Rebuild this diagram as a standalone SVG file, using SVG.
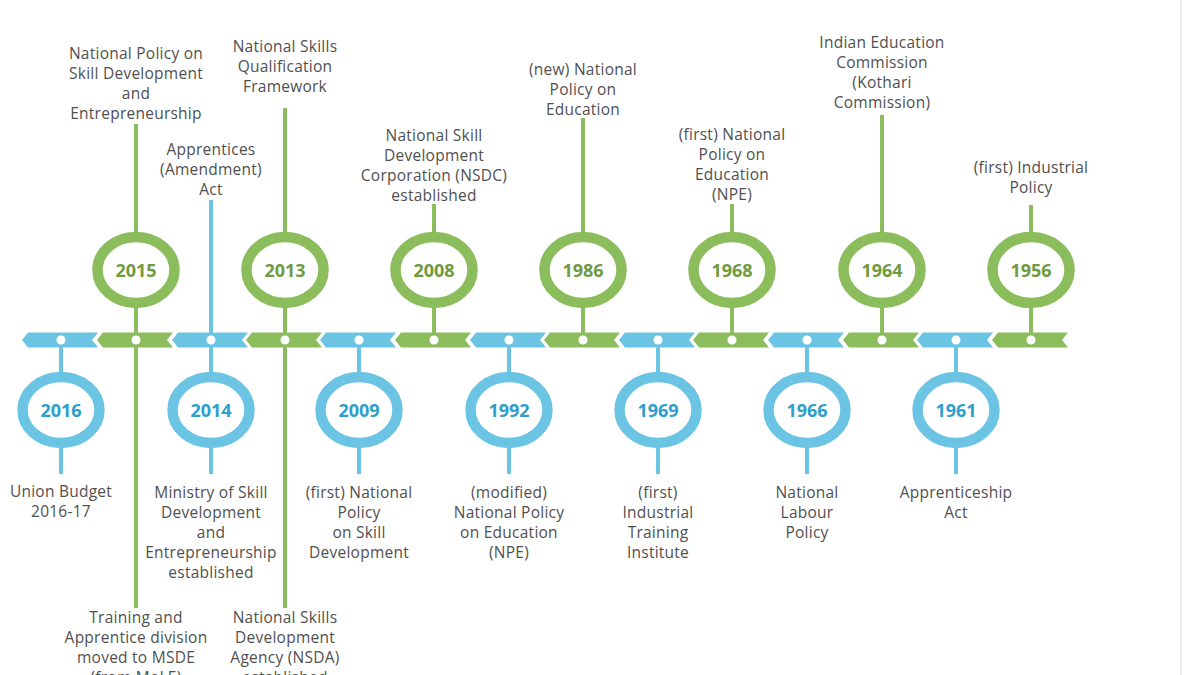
<svg xmlns="http://www.w3.org/2000/svg" width="1184" height="675" viewBox="0 0 1184 675">
<style>
.g{fill:#8cbd5c}
.b{fill:#6cc4e4}
.gs{stroke:#8cbd5c;stroke-width:4;fill:none}
.bs{stroke:#6cc4e4;stroke-width:4;fill:none}
.gr{fill:#fff;stroke:#8cbd5c;stroke-width:10.5}
.br{fill:#fff;stroke:#6cc4e4;stroke-width:10.5}
.yg{font-family:"Open Sans","Liberation Sans",sans-serif;font-weight:700;font-size:18px;fill:#6f9a40;text-anchor:middle}
.yb{font-family:"Open Sans","Liberation Sans",sans-serif;font-weight:700;font-size:18px;fill:#2e9ecb;text-anchor:middle}
.t{font-family:"Open Sans","Liberation Sans",sans-serif;font-size:15.5px;letter-spacing:0.25px;fill:#505050;text-anchor:middle}
.dot{fill:#fff}
</style>
<defs>
<path id="seg" d="M-39,0 L-33,-7.5 L37,-7.5 L31,0 L37,7.5 L-33,7.5 Z"/>
</defs>
<rect width="1184" height="675" fill="#fff"/>
<line x1="1181" y1="0" x2="1181" y2="675" stroke="#e4e4e4" stroke-width="1.5"/>

<g id="connectors">
  <line class="gs" x1="136" y1="124" x2="136" y2="232"/>
  <line class="gs" x1="136" y1="308" x2="136" y2="608"/>
  <line class="bs" x1="211" y1="200" x2="211" y2="340"/>
  <line class="gs" x1="285" y1="108" x2="285" y2="232"/>
  <line class="gs" x1="285" y1="308" x2="285" y2="608"/>
  <line class="gs" x1="434" y1="204" x2="434" y2="232"/>
  <line class="gs" x1="434" y1="308" x2="434" y2="340"/>
  <line class="gs" x1="583" y1="118" x2="583" y2="232"/>
  <line class="gs" x1="583" y1="308" x2="583" y2="340"/>
  <line class="gs" x1="732" y1="204" x2="732" y2="232"/>
  <line class="gs" x1="732" y1="308" x2="732" y2="340"/>
  <line class="gs" x1="882" y1="115" x2="882" y2="232"/>
  <line class="gs" x1="882" y1="308" x2="882" y2="340"/>
  <line class="gs" x1="1031" y1="205" x2="1031" y2="232"/>
  <line class="gs" x1="1031" y1="308" x2="1031" y2="340"/>
  <line class="bs" x1="61" y1="340" x2="61" y2="373"/>
  <line class="bs" x1="61" y1="448" x2="61" y2="474"/>
  <line class="bs" x1="211" y1="340" x2="211" y2="373"/>
  <line class="bs" x1="211" y1="448" x2="211" y2="474"/>
  <line class="bs" x1="359" y1="340" x2="359" y2="373"/>
  <line class="bs" x1="359" y1="448" x2="359" y2="474"/>
  <line class="bs" x1="509" y1="340" x2="509" y2="373"/>
  <line class="bs" x1="509" y1="448" x2="509" y2="474"/>
  <line class="bs" x1="658" y1="340" x2="658" y2="373"/>
  <line class="bs" x1="658" y1="448" x2="658" y2="474"/>
  <line class="bs" x1="807" y1="340" x2="807" y2="373"/>
  <line class="bs" x1="807" y1="448" x2="807" y2="474"/>
  <line class="bs" x1="956" y1="340" x2="956" y2="373"/>
  <line class="bs" x1="956" y1="448" x2="956" y2="474"/>
</g>

<g id="timeline">
  <use href="#seg" class="b" x="61" y="340"/>
  <use href="#seg" class="g" x="136" y="340"/>
  <use href="#seg" class="b" x="211" y="340"/>
  <use href="#seg" class="g" x="285" y="340"/>
  <use href="#seg" class="b" x="359" y="340"/>
  <use href="#seg" class="g" x="434" y="340"/>
  <use href="#seg" class="b" x="509" y="340"/>
  <use href="#seg" class="g" x="583" y="340"/>
  <use href="#seg" class="b" x="658" y="340"/>
  <use href="#seg" class="g" x="732" y="340"/>
  <use href="#seg" class="b" x="807" y="340"/>
  <use href="#seg" class="g" x="882" y="340"/>
  <use href="#seg" class="b" x="956" y="340"/>
  <use href="#seg" class="g" x="1031" y="340"/>
  <circle class="dot" cx="61" cy="340" r="4.5"/>
  <circle class="dot" cx="136" cy="340" r="4.5"/>
  <circle class="dot" cx="211" cy="340" r="4.5"/>
  <circle class="dot" cx="285" cy="340" r="4.5"/>
  <circle class="dot" cx="359" cy="340" r="4.5"/>
  <circle class="dot" cx="434" cy="340" r="4.5"/>
  <circle class="dot" cx="509" cy="340" r="4.5"/>
  <circle class="dot" cx="583" cy="340" r="4.5"/>
  <circle class="dot" cx="658" cy="340" r="4.5"/>
  <circle class="dot" cx="732" cy="340" r="4.5"/>
  <circle class="dot" cx="807" cy="340" r="4.5"/>
  <circle class="dot" cx="882" cy="340" r="4.5"/>
  <circle class="dot" cx="956" cy="340" r="4.5"/>
  <circle class="dot" cx="1031" cy="340" r="4.5"/>
</g>

<g id="n2016">
  <ellipse class="br" cx="61" cy="410" rx="38.5" ry="33"/>
  <text class="yb" x="61" y="417">2016</text>
  <text class="t" x="61" y="497">Union Budget</text>
  <text class="t" x="61" y="517">2016-17</text>
</g>
<g id="n2015">
  <ellipse class="gr" cx="136" cy="270" rx="38.5" ry="33"/>
  <text class="yg" x="136" y="277">2015</text>
  <text class="t" x="136" y="59">National Policy on</text>
  <text class="t" x="136" y="79">Skill Development</text>
  <text class="t" x="136" y="99">and</text>
  <text class="t" x="136" y="119">Entrepreneurship</text>
  <text class="t" x="136" y="623">Training and</text>
  <text class="t" x="136" y="643">Apprentice division</text>
  <text class="t" x="136" y="663">moved to MSDE</text>
  <text class="t" x="136" y="683">(from MoLE)</text>
</g>
<g id="n2014">
  <ellipse class="br" cx="211" cy="410" rx="38.5" ry="33"/>
  <text class="yb" x="211" y="417">2014</text>
  <text class="t" x="211" y="155">Apprentices</text>
  <text class="t" x="211" y="175">(Amendment)</text>
  <text class="t" x="211" y="195">Act</text>
  <text class="t" x="211" y="498">Ministry of Skill</text>
  <text class="t" x="211" y="518">Development</text>
  <text class="t" x="211" y="538">and</text>
  <text class="t" x="211" y="558">Entrepreneurship</text>
  <text class="t" x="211" y="578">established</text>
</g>
<g id="n2013">
  <ellipse class="gr" cx="285" cy="270" rx="38.5" ry="33"/>
  <text class="yg" x="285" y="277">2013</text>
  <text class="t" x="285" y="52">National Skills</text>
  <text class="t" x="285" y="72">Qualification</text>
  <text class="t" x="285" y="92">Framework</text>
  <text class="t" x="285" y="623">National Skills</text>
  <text class="t" x="285" y="643">Development</text>
  <text class="t" x="285" y="663">Agency (NSDA)</text>
  <text class="t" x="285" y="683">established</text>
</g>
<g id="n2009">
  <ellipse class="br" cx="359" cy="410" rx="38.5" ry="33"/>
  <text class="yb" x="359" y="417">2009</text>
  <text class="t" x="359" y="498">(first) National</text>
  <text class="t" x="359" y="518">Policy</text>
  <text class="t" x="359" y="538">on Skill</text>
  <text class="t" x="359" y="558">Development</text>
</g>
<g id="n2008">
  <ellipse class="gr" cx="434" cy="270" rx="38.5" ry="33"/>
  <text class="yg" x="434" y="277">2008</text>
  <text class="t" x="434" y="141">National Skill</text>
  <text class="t" x="434" y="161">Development</text>
  <text class="t" x="434" y="181">Corporation (NSDC)</text>
  <text class="t" x="434" y="201">established</text>
</g>
<g id="n1992">
  <ellipse class="br" cx="509" cy="410" rx="38.5" ry="33"/>
  <text class="yb" x="509" y="417">1992</text>
  <text class="t" x="509" y="498">(modified)</text>
  <text class="t" x="509" y="518">National Policy</text>
  <text class="t" x="509" y="538">on Education</text>
  <text class="t" x="509" y="558">(NPE)</text>
</g>
<g id="n1986">
  <ellipse class="gr" cx="583" cy="270" rx="38.5" ry="33"/>
  <text class="yg" x="583" y="277">1986</text>
  <text class="t" x="583" y="75">(new) National</text>
  <text class="t" x="583" y="95">Policy on</text>
  <text class="t" x="583" y="115">Education</text>
</g>
<g id="n1969">
  <ellipse class="br" cx="658" cy="410" rx="38.5" ry="33"/>
  <text class="yb" x="658" y="417">1969</text>
  <text class="t" x="658" y="498">(first)</text>
  <text class="t" x="658" y="518">Industrial</text>
  <text class="t" x="658" y="538">Training</text>
  <text class="t" x="658" y="558">Institute</text>
</g>
<g id="n1968">
  <ellipse class="gr" cx="732" cy="270" rx="38.5" ry="33"/>
  <text class="yg" x="732" y="277">1968</text>
  <text class="t" x="732" y="140">(first) National</text>
  <text class="t" x="732" y="160">Policy on</text>
  <text class="t" x="732" y="180">Education</text>
  <text class="t" x="732" y="200">(NPE)</text>
</g>
<g id="n1966">
  <ellipse class="br" cx="807" cy="410" rx="38.5" ry="33"/>
  <text class="yb" x="807" y="417">1966</text>
  <text class="t" x="807" y="498">National</text>
  <text class="t" x="807" y="518">Labour</text>
  <text class="t" x="807" y="538">Policy</text>
</g>
<g id="n1964">
  <ellipse class="gr" cx="882" cy="270" rx="38.5" ry="33"/>
  <text class="yg" x="882" y="277">1964</text>
  <text class="t" x="882" y="48">Indian Education</text>
  <text class="t" x="882" y="68">Commission</text>
  <text class="t" x="882" y="88">(Kothari</text>
  <text class="t" x="882" y="108">Commission)</text>
</g>
<g id="n1961">
  <ellipse class="br" cx="956" cy="410" rx="38.5" ry="33"/>
  <text class="yb" x="956" y="417">1961</text>
  <text class="t" x="956" y="498">Apprenticeship</text>
  <text class="t" x="956" y="518">Act</text>
</g>
<g id="n1956">
  <ellipse class="gr" cx="1031" cy="270" rx="38.5" ry="33"/>
  <text class="yg" x="1031" y="277">1956</text>
  <text class="t" x="1031" y="173">(first) Industrial</text>
  <text class="t" x="1031" y="193">Policy</text>
</g>
</svg>
